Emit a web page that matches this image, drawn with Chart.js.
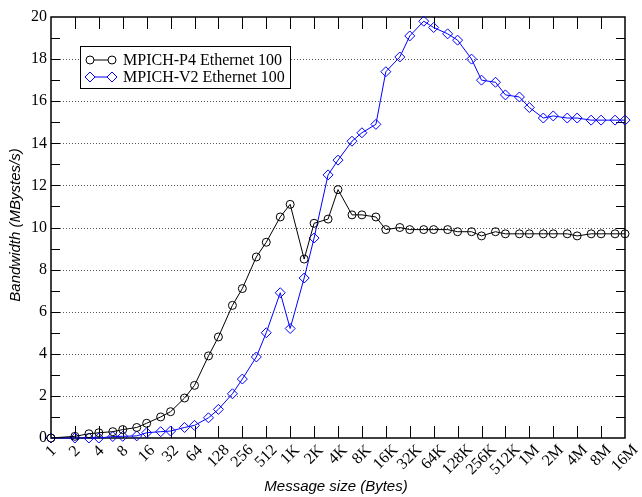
<!DOCTYPE html>
<html>
<head>
<meta charset="utf-8">
<title>MPICH bandwidth</title>
<script src="https://cdn.jsdelivr.net/npm/chart.js@4.4.0/dist/chart.umd.min.js"></script>
<style>
  html, body { margin: 0; padding: 0; background: #fff; }
</style>
</head>
<body>
<canvas id="bwChart" width="642" height="497"></canvas>
<script>
// Message sizes in bytes (powers of two and the 1.5x points between them)
const messageSizes = [1, 2, 3, 4, 6, 8, 12, 16, 24, 32, 48, 64, 96, 128, 192, 256, 384, 512, 768, 1024,
    1536, 2048, 3072, 4096, 6144, 8192, 12288, 16384, 24576, 32768, 49152, 65536, 98304, 131072,
    196608, 262144, 393216, 524288, 786432, 1048576, 1572864, 2097152, 3145728, 4194304,
    6291456, 8388608, 12582912, 16777216];

// Bandwidth in MBytes/s
const p4Values = [0, 0.08, 0.2, 0.25, 0.3, 0.4, 0.5, 0.7, 1.0, 1.25, 1.9, 2.5, 3.9, 4.8, 6.3, 7.1,
    8.6, 9.3, 10.5, 11.1, 8.5, 10.2, 10.4, 11.8, 10.6, 10.6, 10.5, 9.9, 10.0, 9.9, 9.9, 9.9,
    9.9, 9.8, 9.8, 9.6, 9.8, 9.7, 9.7, 9.7, 9.7, 9.7, 9.7, 9.6, 9.7, 9.7, 9.7, 9.7];
const v2Values = [0, 0, 0, 0, 0.07, 0.08, 0.1, 0.25, 0.3, 0.33, 0.5, 0.6, 0.96, 1.36, 2.1, 2.8,
    3.85, 5.0, 6.9, 5.2, 7.6, 9.5, 12.5, 13.2, 14.1, 14.5, 14.9, 17.4, 18.1, 19.1, 19.8, 19.5,
    19.2, 18.9, 18.0, 17.0, 16.9, 16.3, 16.2, 15.7, 15.2, 15.3, 15.2, 15.2, 15.1, 15.1, 15.1, 15.1];

// Axis ticks
const xTickValues = [1, 2, 4, 8, 16, 32, 64, 128, 256, 512, 1024, 2048, 4096, 8192, 16384, 32768,
    65536, 131072, 262144, 524288, 1048576, 2097152, 4194304, 8388608, 16777216];
const xTickLabels = ['1', '2', '4', '8', '16', '32', '64', '128', '256', '512', '1K', '2K', '4K', '8K',
    '16K', '32K', '64K', '128K', '256K', '512K', '1M', '2M', '4M', '8M', '16M'];
const yTickValues = [0, 2, 4, 6, 8, 10, 12, 14, 16, 18, 20];
const yTickLabels = ['0', '2', '4', '6', '8', '10', '12', '14', '16', '18', '20'];

const serif = '"Liberation Serif", "DejaVu Serif", serif';
const sans = '"Liberation Sans", Arial, sans-serif';

function toPoints(values) {
    return values.map((v, i) => ({ x: messageSizes[i], y: v }));
}

// gnuplot-style frame: dotted grid, inward ticks, tick labels and axis titles
const gnuplotAxes = {
    id: 'gnuplotAxes',
    beforeDatasetsDraw(chart) {
        const { ctx, chartArea: a, scales: { x, y } } = chart;
        ctx.save();

        // dotted horizontal grid
        ctx.strokeStyle = '#555';
        ctx.lineWidth = 1;
        ctx.setLineDash([1, 2]);
        yTickValues.slice(1, -1).forEach(v => {
            const py = Math.round(y.getPixelForValue(v)) + 0.5;
            ctx.beginPath();
            ctx.moveTo(a.left, py);
            ctx.lineTo(a.right, py);
            ctx.stroke();
        });
        ctx.setLineDash([]);

        // y ticks every unit, both sides
        ctx.strokeStyle = '#000';
        for (let v = 1; v < 20; v++) {
            const py = Math.round(y.getPixelForValue(v)) + 0.5;
            ctx.beginPath();
            ctx.moveTo(a.left, py);
            ctx.lineTo(a.left + 9, py);
            ctx.moveTo(a.right, py);
            ctx.lineTo(a.right - 9, py);
            ctx.stroke();
        }

        // x ticks, bottom and top
        xTickValues.slice(1, -1).forEach(v => {
            const px = Math.round(x.getPixelForValue(v)) + 0.5;
            ctx.beginPath();
            ctx.moveTo(px, a.bottom);
            ctx.lineTo(px, a.bottom - 12);
            ctx.moveTo(px, a.top);
            ctx.lineTo(px, a.top + 12);
            ctx.stroke();
        });

        // frame
        ctx.lineWidth = 1.5;
        ctx.strokeRect(a.left, a.top, a.right - a.left, a.bottom - a.top);

        // y tick labels
        ctx.fillStyle = '#000';
        ctx.font = '16px ' + serif;
        ctx.textAlign = 'right';
        ctx.textBaseline = 'middle';
        yTickValues.forEach((v, i) => {
            ctx.fillText(yTickLabels[i], a.left - 4, y.getPixelForValue(v));
        });

        // x tick labels, rotated 45 degrees
        ctx.textAlign = 'center';
        xTickValues.forEach((v, i) => {
            const w = ctx.measureText(xTickLabels[i]).width;
            ctx.save();
            ctx.translate(x.getPixelForValue(v), a.bottom + 11 + w * 0.3);
            ctx.rotate(-Math.PI / 4);
            ctx.fillText(xTickLabels[i], 0, 0);
            ctx.restore();
        });

        // axis titles
        ctx.font = 'italic 15px ' + sans;
        ctx.fillText('Message size (Bytes)', (a.left + a.right) / 2 - 2, 487);
        ctx.save();
        ctx.translate(16, 225);
        ctx.rotate(-Math.PI / 2);
        ctx.fillText('Bandwidth (MBystes/s)', 0, 0);
        ctx.restore();

        ctx.restore();
    }
};

// boxed key with a marker at each end of the sample line
const gnuplotKey = {
    id: 'gnuplotKey',
    afterDatasetsDraw(chart) {
        const ctx = chart.ctx;
        const box = { left: 80.5, top: 46.5, width: 210, height: 42 };
        ctx.save();
        ctx.fillStyle = '#fff';
        ctx.strokeStyle = '#000';
        ctx.lineWidth = 1;
        ctx.fillRect(box.left, box.top, box.width, box.height);
        ctx.strokeRect(box.left, box.top, box.width, box.height);

        ctx.font = '16px ' + serif;
        ctx.textAlign = 'left';
        ctx.textBaseline = 'middle';
        chart.data.datasets.forEach((ds, i) => {
            const ry = box.top + 13.5 + i * 17;
            ctx.strokeStyle = ds.borderColor;
            ctx.lineWidth = 1;
            ctx.beginPath();
            ctx.moveTo(90, ry);
            ctx.lineTo(112, ry);
            ctx.stroke();
            [90, 112].forEach(mx => {
                ctx.fillStyle = '#fff';
                Chart.helpers.drawPoint(ctx, {
                    pointStyle: ds.pointStyle,
                    radius: ds.pointRadius,
                    borderWidth: 1,
                    rotation: 0
                }, mx, ry);
            });
            ctx.fillStyle = '#000';
            ctx.fillText(ds.label, 123, ry + 1);
        });
        ctx.restore();
    }
};

new Chart(document.getElementById('bwChart'), {
    type: 'line',
    data: {
        datasets: [
            {
                label: 'MPICH-P4 Ethernet 100',
                data: toPoints(p4Values),
                borderColor: '#000000',
                backgroundColor: 'rgba(0,0,0,0)',
                borderWidth: 1,
                pointStyle: 'circle',
                pointRadius: 4,
                pointBorderWidth: 1,
                pointBorderColor: '#000000',
                pointBackgroundColor: 'rgba(0,0,0,0)',
                tension: 0,
                clip: false
            },
            {
                label: 'MPICH-V2 Ethernet 100',
                data: toPoints(v2Values),
                borderColor: '#0000ff',
                backgroundColor: 'rgba(0,0,0,0)',
                borderWidth: 1,
                pointStyle: 'rectRot',
                pointRadius: 5,
                pointBorderWidth: 1,
                pointBorderColor: '#0000ff',
                pointBackgroundColor: 'rgba(0,0,0,0)',
                tension: 0,
                clip: false
            }
        ]
    },
    options: {
        responsive: false,
        animation: false,
        layout: { padding: { left: 51, right: 17, top: 17, bottom: 59 } },
        plugins: {
            legend: { display: false },
            tooltip: { enabled: false }
        },
        scales: {
            x: { type: 'logarithmic', min: 1, max: 16777216, display: false },
            y: { type: 'linear', min: 0, max: 20, display: false }
        }
    },
    plugins: [gnuplotAxes, gnuplotKey]
});
</script>
</body>
</html>
